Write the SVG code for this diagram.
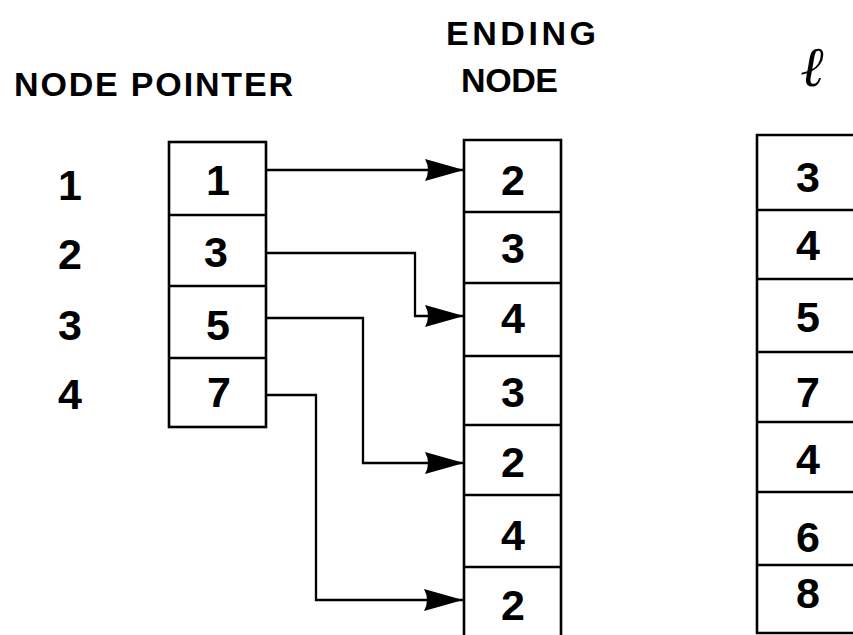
<svg xmlns="http://www.w3.org/2000/svg" width="853" height="635" viewBox="0 0 853 635">
  <style>
    .head { font-family: "Liberation Sans", Arial, sans-serif; font-weight: bold; font-size: 34px; fill: #000; }
    .num { font-family: "Liberation Sans", Arial, sans-serif; font-weight: bold; font-size: 43px; fill: #000; text-anchor: middle; }
    .cell { fill: none; stroke: #000; stroke-width: 2.6; }
    .link { fill: none; stroke: #000; stroke-width: 2.3; stroke-linejoin: miter; }
  </style>
  <defs>
    <marker id="arrow" markerUnits="userSpaceOnUse" markerWidth="42" markerHeight="24" refX="39" refY="11" orient="auto">
      <path d="M0,0 Q6,11 0,22 L39,11 Z" fill="#000"/>
    </marker>
  </defs>
  <rect width="853" height="635" fill="#fff"/>

  <!-- column headings -->
  <g id="headings">
    <text class="head" x="14" y="96" textLength="279" lengthAdjust="spacing">NODE POINTER</text>
    <text class="head" x="446" y="45" textLength="150" lengthAdjust="spacing" font-size="32">ENDING</text>
    <text class="head" x="461" y="92" textLength="97" lengthAdjust="spacing" font-size="32">NODE</text>
    <text x="812" y="86" font-family="Liberation Serif, serif" font-style="italic" font-size="56" text-anchor="middle">ℓ</text>
  </g>

  <!-- node numbers -->
  <g id="node-numbers">
    <text class="num" x="70" y="200">1</text>
    <text class="num" x="70" y="269">2</text>
    <text class="num" x="70" y="340">3</text>
    <text class="num" x="70" y="409">4</text>
  </g>

  <!-- pointer array -->
  <g id="pointer">
    <rect class="cell" x="169" y="142" width="97" height="285"/>
    <path class="cell" d="M169,215 H266 M169,286 H266 M169,358 H266"/>
    <text class="num" x="218" y="195">1</text>
    <text class="num" x="216" y="267">3</text>
    <text class="num" x="218" y="340">5</text>
    <text class="num" x="219" y="407">7</text>
  </g>

  <!-- ending node array -->
  <g id="ending-node">
    <path class="cell" d="M464,650 V140 H561 V650"/>
    <path class="cell" d="M464,212 H561 M464,283 H561 M464,356 H561 M464,425 H561 M464,495 H561 M464,567 H561"/>
    <text class="num" x="513" y="195">2</text>
    <text class="num" x="513" y="263">3</text>
    <text class="num" x="513" y="333">4</text>
    <text class="num" x="513" y="407">3</text>
    <text class="num" x="513" y="477">2</text>
    <text class="num" x="513" y="550">4</text>
    <text class="num" x="513" y="620">2</text>
  </g>

  <!-- length array -->
  <g id="length">
    <path class="cell" d="M870,135 H757 V633 H870"/>
    <path class="cell" d="M757,210 H870 M757,279 H870 M757,352 H870 M757,422 H870 M757,492 H870 M757,565 H870"/>
    <text class="num" x="808" y="192">3</text>
    <text class="num" x="808" y="260">4</text>
    <text class="num" x="808" y="332">5</text>
    <text class="num" x="808" y="407">7</text>
    <text class="num" x="808" y="474">4</text>
    <text class="num" x="808" y="552">6</text>
    <text class="num" x="808" y="608">8</text>
  </g>

  <!-- pointer links -->
  <g id="connectors">
    <path class="link" d="M266,170 H464" marker-end="url(#arrow)"/>
    <path class="link" d="M266,253 H415 V316 H464" marker-end="url(#arrow)"/>
    <path class="link" d="M266,318 H363 V463 H464" marker-end="url(#arrow)"/>
    <path class="link" d="M266,395 H316 V600 H463" marker-end="url(#arrow)"/>
  </g>
</svg>
